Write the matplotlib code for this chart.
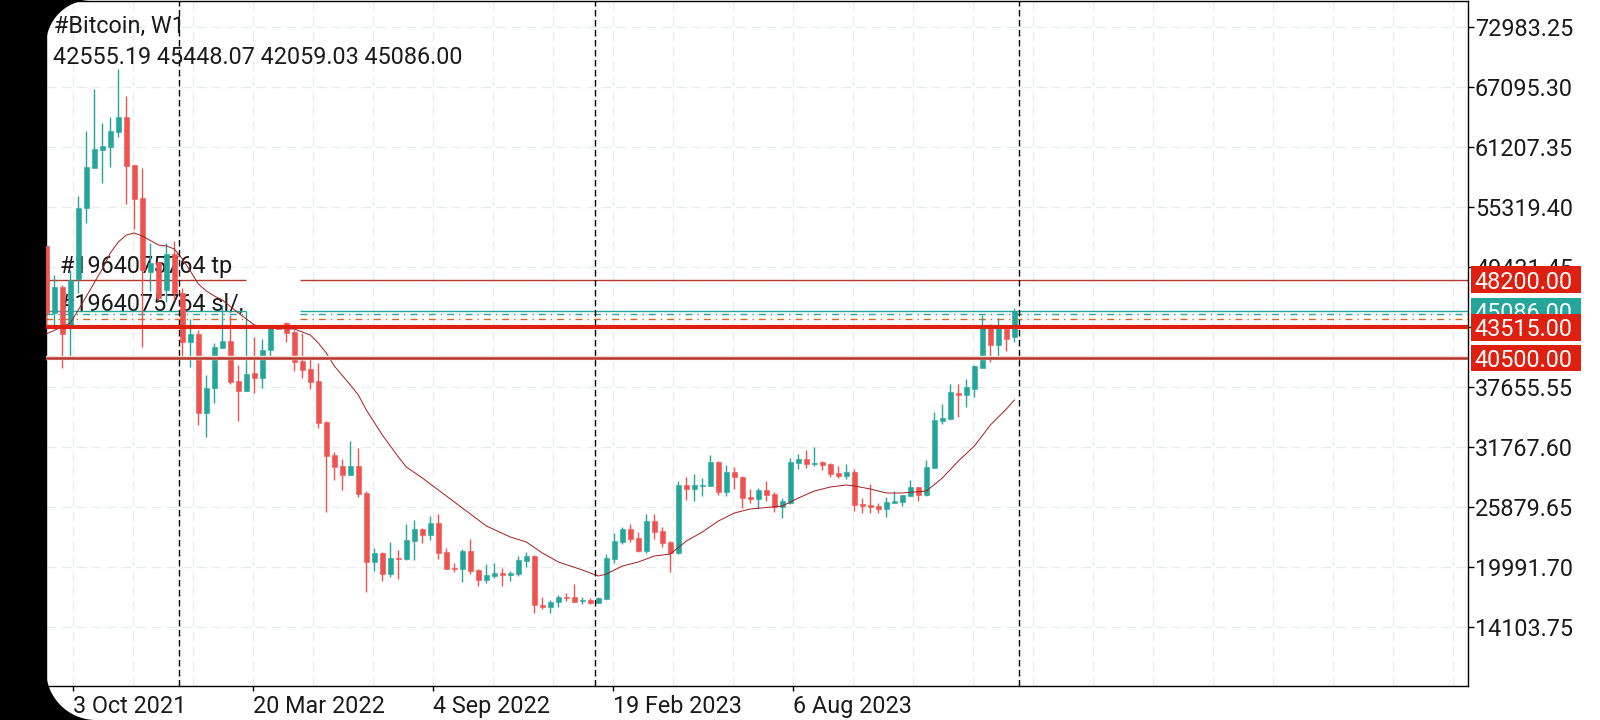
import numpy as np
import matplotlib
matplotlib.use("Agg")
import matplotlib.pyplot as plt
from matplotlib.patches import Ellipse, Rectangle

plt.rcParams["font.family"] = ["Roboto", "DejaVu Sans"]

# weekly candles (oldest first)
opens = [51493, 44918, 47470, 43544, 48255, 55222, 59147, 60914, 61208, 62680, 64152, 59441,
         56203, 48942, 49923, 47175, 50708, 46881, 42073, 42858, 35106, 37559, 41484, 42171,
         38245, 37264, 39031, 38540, 41288, 43642, 43937, 43054, 40208, 39423, 38245, 34222,
         30984, 29904, 29021, 29904, 27255, 20484, 21367, 19306, 20876, 20778, 22545, 23722,
         23133, 24311, 21465, 19895, 19797, 21563, 19699, 18718, 19110, 19405, 19208, 19306,
         20582, 21073, 16264, 16068, 16559, 17049, 17049, 16657, 16755, 16461, 16853, 20778,
         22446, 23722, 22839, 21563, 24507, 23526, 22446, 21367, 28040, 27647, 27942, 27942,
         30297, 27353, 29316, 28825, 26862, 26666, 27549, 27157, 25881, 26274, 30199, 30591,
         30101, 30297, 30101, 29217, 28923, 29316, 26175, 26077, 25979, 25685, 26274, 26372,
         26961, 27844, 27059, 29708, 34320, 34517, 37068, 36872, 37460, 39521, 43741, 41778,
         43348, 42555.19]
highs = [51493, 48647, 47666, 49138, 56400, 62778, 66899, 63563, 64152, 68862, 66213, 59441,
         59147, 51787, 49923, 51787, 51983, 47372, 44329, 43250, 38834, 41975, 45703, 44722,
         39815, 45114, 42563, 42367, 43741, 43741, 44035, 43250, 42956, 40601, 40012, 34320,
         31278, 30591, 32358, 31671, 27451, 21858, 21465, 22446, 21661, 24213, 24605, 23820,
         24998, 25194, 21858, 20386, 21760, 22741, 19797, 20288, 20386, 19895, 19601, 21073,
         21465, 21171, 17049, 16755, 17246, 17442, 18325, 17049, 16951, 17049, 21269, 23330,
         23918, 24213, 23428, 25194, 25194, 23918, 22545, 28432, 28825, 29119, 28727, 30984,
         30395, 30003, 29806, 28923, 27647, 27746, 28432, 27353, 26764, 30689, 31082, 31475,
         31769, 30395, 30199, 29904, 30101, 29610, 26764, 28138, 26274, 26862, 27451, 27059,
         28531, 27844, 30493, 35204, 35989, 37951, 37951, 38442, 39815, 44722, 43839, 44427,
         43741, 45448.07]
lows = [43642, 43446, 39521, 40601, 46881, 53750, 59147, 57675, 59245, 62189, 55614, 53161,
        41582, 47077, 46194, 45998, 46194, 40601, 39619, 33928, 32750, 36087, 41484, 37951,
        34320, 37264, 37068, 37559, 40601, 43348, 42073, 39227, 38540, 37460, 33633, 25391,
        28531, 27549, 29021, 26862, 17540, 19601, 18619, 19012, 18816, 20680, 20680, 22348,
        22643, 20778, 19797, 19503, 18521, 19306, 18129, 18423, 18914, 18129, 18619, 19110,
        19993, 15479, 15872, 15479, 16068, 16657, 16559, 16362, 16362, 16461, 16853, 20386,
        22250, 22446, 21465, 21367, 22741, 21956, 19503, 21269, 26568, 26470, 26961, 27942,
        27059, 26961, 27647, 25783, 26274, 25783, 26470, 25391, 24802, 26175, 29610, 29708,
        29904, 29512, 28825, 28727, 28629, 25489, 25292, 25292, 25292, 24900, 26274, 25979,
        26961, 26470, 26961, 29708, 34026, 34517, 34713, 35694, 36675, 39521, 40110, 40601,
        41190, 42059.03]
closes = [44918, 47470, 42858, 48157, 55222, 59245, 61012, 61306, 62778, 64152, 59343, 56105,
          49138, 49825, 46390, 50708, 46881, 42073, 42858, 35106, 37559, 41582, 42171, 38147,
          37264, 38932, 38540, 41288, 43642, 43348, 42956, 40110, 39325, 38147, 34124, 30886,
          29806, 29021, 29904, 27157, 20484, 21367, 19306, 20876, 20778, 22643, 23722, 23133,
          24311, 21367, 19797, 19797, 21563, 19601, 18718, 19208, 19405, 19208, 19405, 20680,
          21073, 16264, 16068, 16559, 17049, 16951, 16559, 16755, 16461, 16951, 20876, 22545,
          23722, 22741, 21563, 24507, 23428, 22348, 21367, 28040, 27647, 28040, 28040, 30297,
          27353, 29316, 28825, 26764, 26666, 27549, 27059, 25881, 26470, 30297, 30591, 30101,
          30199, 30002, 29119, 28923, 29316, 26077, 25979, 25881, 25685, 26372, 26470, 27059,
          27844, 27059, 29806, 34418, 34615, 37166, 36872, 37657, 39717, 43741, 41778, 43544,
          42367, 45086.00]

# moving average, read at these candles
ma_bars = [0, 3, 4, 7, 8, 9, 10, 11, 12, 14, 15, 16, 17, 18, 19, 20, 21, 22, 24, 26, 28, 31, 33, 34,
           35, 36, 38, 39, 40, 42, 44, 45, 47, 48, 50, 52, 55, 58, 60, 62, 64, 67, 69, 70, 72, 74,
           76, 78, 80, 82, 84, 86, 88, 92, 94, 96, 98, 100, 101, 103, 105, 107, 110, 112, 114,
           116, 118, 120, 121]
ma_values = [42858, 43937, 45213, 49236, 50806, 51886, 52572, 52769, 52474, 51591, 51493, 51199,
             50217, 49040, 47764, 47077, 46586, 46194, 44918, 43741, 43446, 43348, 42760, 41975,
             40994, 39717, 37853, 36872, 35400, 32946, 30787, 29806, 28727, 28138, 26961, 25783,
             24017, 22937, 22446, 21367, 20484, 19699, 19110, 19306, 20091, 20484, 21073, 21269,
             22545, 23428, 24507, 25292, 25685, 25979, 26764, 27451, 27844, 28040, 27942, 27647,
             27255, 27255, 27451, 28727, 30395, 31867, 33928, 35498, 36381]

price_ticks = [14103.75, 19991.70, 25879.65, 31767.60, 37655.55, 43543.50, 49431.45, 55319.40,
               61207.35, 67095.30, 72983.25]
date_ticks = [3.375, 25.875, 48.375, 70.875, 93.375]
date_labels = ["3 Oct 2021", "20 Mar 2022", "4 Sep 2022", "19 Feb 2023", "6 Aug 2023"]
separators = [16.625, 68.625, 121.625]

tp_price = 48200.00
sl_price = 40500.00
entry_price = 43515.00
bid_price = 45086.00
ask_price = 44790
mid_price = 44300

BULL = "#26a69a"
BEAR = "#ef5350"
RED = "#de2010"
DARK_RED = "#b5382c"
FS = 16.8
GAP = (25, 31.75)  # bars where the white patch cuts the thin lines

fig = plt.figure(figsize=(16, 7.2), dpi=100)
ax = fig.add_axes([46 / 1600, 1 - 686 / 720, 1422 / 1600, 685 / 720])
ax.set_xlim(-0.04, 177.7)
ax.set_ylim(8316, 75535)
ax.set_axisbelow(True)

ax.yaxis.tick_right()
ax.set_yticks(price_ticks)
ax.set_yticklabels([f"{p:.2f}" for p in price_ticks], fontsize=FS, color="#1a1a1a")
ax.set_xticks(date_ticks)
ax.set_xticklabels(date_labels, fontsize=FS, color="#1a1a1a", ha="left")
ax.set_xticks(np.arange(3.375, 177, 7.5), minor=True)
ax.xaxis.remove_overlapping_locs = False
ax.tick_params(axis="y", length=4, width=1, pad=1)
ax.tick_params(axis="x", which="major", length=3.5, width=1, pad=3)
ax.tick_params(axis="x", which="minor", length=0)
grid_style = dict(color="#e8eeee", linewidth=1, linestyle=(0, (7.2, 3.6)))
ax.grid(axis="y", which="major", **grid_style)
ax.grid(axis="x", which="minor", **grid_style)
for s in ax.spines.values():
    s.set_linewidth(1)
    s.set_color("black")

# order labels sit under the candles
ax.annotate("#1964075764 tp", (1.7, tp_price), xytext=(0, 5), textcoords="offset points",
            fontsize=FS, color="#1a1a1a", va="baseline", zorder=1.5)
ax.annotate("#1964075764 sl/,", (1.7, bid_price), xytext=(0, 0), textcoords="offset points",
            fontsize=FS, color="#1a1a1a", va="baseline", zorder=1.5)


def thin_line(price, **kw):
    ax.hlines(price, -0.04, GAP[0], **kw)
    ax.hlines(price, GAP[1], 177.7, **kw)


thin_line(tp_price, color=DARK_RED, linewidth=1, zorder=2)
thin_line(bid_price, color=BULL, linewidth=1, zorder=2)
thin_line(ask_price, color=BULL, linewidth=1, linestyles=[(0, (5, 3.6, 1, 3.6))], zorder=2)
thin_line(mid_price, color="#d2691e", linewidth=1, linestyles=[(0, (5, 3.6, 1, 3.6))], zorder=2)

ax.add_patch(Ellipse((28.3, 46684), 6.9, 5495, facecolor="white", edgecolor="none", zorder=2.5))

# candles
for i, (o, h, l, c) in enumerate(zip(opens, highs, lows, closes)):
    col = BULL if c >= o else BEAR
    ax.vlines(i, l, h, color=col, linewidth=1, zorder=3)
    ax.bar(i, abs(c - o), bottom=min(o, c), width=0.62, color=col, edgecolor=col, linewidth=0.4, zorder=3)

ax.plot(ma_bars, ma_values, color="#a51c1c", linewidth=0.7, zorder=4)

for sep in separators:
    ax.axvline(sep, color="black", linewidth=1, linestyle=(0, (4.7, 2.5)), zorder=4.5)

ax.axhline(sl_price, color="#f9dcd8", linewidth=3.2, zorder=4.6)
ax.axhline(sl_price, color=DARK_RED, linewidth=1.8, zorder=4.7)
ax.axhline(entry_price, color=RED, linewidth=3, zorder=4.8)

# price boxes on the axis, the red ones lie over the teal one
box_half = 1300
tr = ax.get_yaxis_transform()
boxes = [(bid_price, BULL, 6.0), (tp_price, RED, 6.2), (entry_price, RED, 6.2), (sl_price, RED, 6.2)]
for price, col, z in boxes:
    ax.add_patch(Rectangle((1.0021, price - box_half), 0.0774, 2 * box_half, transform=tr,
                           facecolor=col, edgecolor="none", clip_on=False, zorder=z))
    ax.text(1.0045, price, f"{price:.2f}", transform=tr, color="white", fontsize=FS,
            va="center_baseline", ha="left", clip_on=False, zorder=z + 0.05)

# top overlay in pixels: header text and the black phone edge
over = fig.add_axes([0, 0, 1, 1], zorder=10)
over.set_xlim(0, 1600)
over.set_ylim(720, 0)
over.axis("off")
over.patch.set_alpha(0)
over.text(54, 33, "#Bitcoin, W1", fontsize=FS, color="#1a1a1a", va="baseline")
over.text(53, 64, "42555.19 45448.07 42059.03 45086.00", fontsize=FS, color="#1a1a1a", va="baseline")

t = np.linspace(0, np.pi / 2, 30)
over.fill(np.r_[0, 91 - 45 * np.sin(t[::-1]), 91, 0],
          np.r_[45, 45 - 45 * np.cos(t[::-1]), 0, 0], color="black", linewidth=0)
over.fill(np.r_[0, 96 - 50 * np.sin(t[::-1]), 96, 0],
          np.r_[670, 670 + 50 * np.cos(t[::-1]), 720, 720], color="black", linewidth=0)
over.fill([0, 46, 46, 0], [0, 0, 720, 720], color="black", linewidth=0)

fig.savefig("out.png", dpi=100)
